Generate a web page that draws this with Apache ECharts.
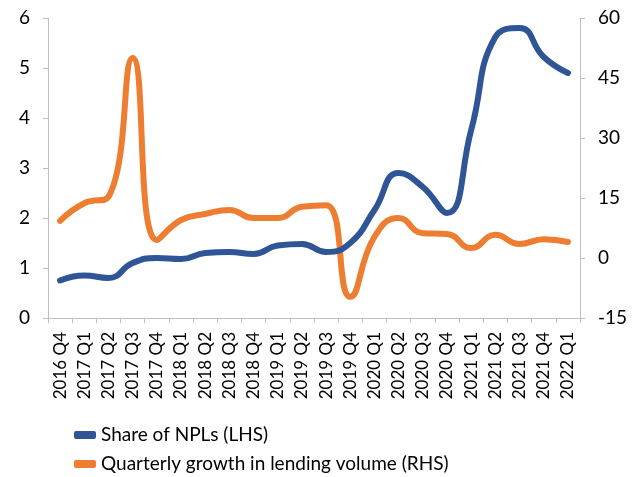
<!DOCTYPE html>
<html>
<head>
<meta charset="utf-8">
<script src="https://cdn.jsdelivr.net/npm/echarts@6/dist/echarts.min.js"></script>
<style>
  html, body { margin: 0; padding: 0; background: #fff; }
  #chart { width: 644px; height: 477px; }
</style>
</head>
<body>
<div id="chart"></div>
<script>
(function(){

    // quarters on the x axis
    let quarters = [
        '2016 Q4',
        '2017 Q1', '2017 Q2', '2017 Q3', '2017 Q4',
        '2018 Q1', '2018 Q2', '2018 Q3', '2018 Q4',
        '2019 Q1', '2019 Q2', '2019 Q3', '2019 Q4',
        '2020 Q1', '2020 Q2', '2020 Q3', '2020 Q4',
        '2021 Q1', '2021 Q2', '2021 Q3', '2021 Q4',
        '2022 Q1'
    ];

    // share of NPLs, left axis
    let nplShare = [0.75, 0.85, 0.8, 1.1, 1.2, 1.18, 1.3, 1.32, 1.28, 1.45, 1.48, 1.32,
                    1.5, 2.16, 2.9, 2.62, 2.1, 3.76, 5.62, 5.8, 5.22, 4.9];

    // quarterly growth in lending volume, right axis
    let lendingGrowth = [9.3, 13.7, 15.3, 50, 4.5, 9.5, 11, 12, 10, 10, 12.8, 13.2,
                         -9.7, 5.3, 10, 6.2, 6, 2.5, 5.8, 3.5, 4.7, 4];

    let leftTicks = { min: 0, max: 6, interval: 1 };
    let rightTicks = { min: -15, max: 60, interval: 15 };

    let fontFamily = 'Lato, Open Sans, sans-serif';
    let axisColor = '#BFBFBF';

    let _chartOptions = {
        animation: false,
        grid: {
            left: 48,
            right: 64,
            top: 18,
            bottom: 159
        },
        legend: {
            orient: 'vertical',
            left: 74,
            top: 422,
            padding: 0,
            itemGap: 3,
            itemWidth: 22,
            itemHeight: 8,
            icon: 'roundRect',
            textStyle: {
                fontFamily: fontFamily,
                fontSize: 19,
                lineHeight: 26,
                color: '#000'
            },
            data: ['Share of NPLs (LHS)', 'Quarterly growth in lending volume (RHS)']
        },
        xAxis: {
            type: 'category',
            data: quarters,
            boundaryGap: true,
            axisLine: { show: true, lineStyle: { color: axisColor, width: 1 } },
            axisTick: { show: true, length: 5, lineStyle: { color: axisColor } },
            axisLabel: {
                rotate: 90,
                interval: 0,
                margin: 14,
                fontFamily: fontFamily,
                fontSize: 17,
                color: '#000'
            },
            splitLine: { show: false }
        },
        yAxis: [
            {
                type: 'value',
                position: 'left',
                min: leftTicks.min,
                max: leftTicks.max,
                interval: leftTicks.interval,
                axisLine: { show: true, lineStyle: { color: axisColor } },
                axisTick: { show: true, length: 5, lineStyle: { color: axisColor } },
                axisLabel: {
                    margin: 18,
                    fontFamily: fontFamily,
                    fontSize: 19,
                    color: '#000'
                },
                splitLine: { show: false }
            },
            {
                type: 'value',
                position: 'right',
                min: rightTicks.min,
                max: rightTicks.max,
                interval: rightTicks.interval,
                axisLine: { show: true, lineStyle: { color: axisColor } },
                axisTick: { show: true, length: 5, lineStyle: { color: axisColor } },
                axisLabel: {
                    margin: 18,
                    fontFamily: fontFamily,
                    fontSize: 19,
                    color: '#000'
                },
                splitLine: { show: false }
            }
        ],
        series: [
            {
                name: 'Share of NPLs (LHS)',
                type: 'line',
                yAxisIndex: 0,
                smooth: 0.5,
                showSymbol: false,
                data: nplShare,
                lineStyle: { width: 6, color: '#2F5597', cap: 'round' },
                itemStyle: { color: '#2F5597' },
                z: 3
            },
            {
                name: 'Quarterly growth in lending volume (RHS)',
                type: 'line',
                yAxisIndex: 1,
                smooth: 0.5,
                showSymbol: false,
                data: lendingGrowth,
                lineStyle: { width: 6, color: '#ED7D31', cap: 'round' },
                itemStyle: { color: '#ED7D31' },
                z: 2
            }
        ]
    };

    let chart = echarts.init(document.getElementById('chart'));
    chart.setOption(_chartOptions);
})();
</script>
</body>
</html>
